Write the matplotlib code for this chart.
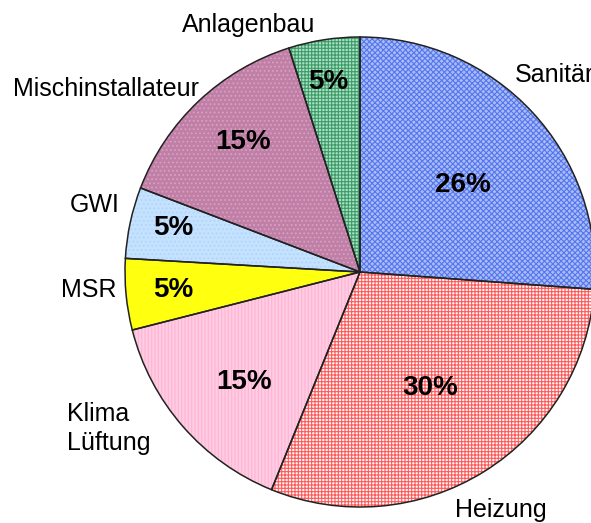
import matplotlib
matplotlib.use("Agg")
import matplotlib.pyplot as plt

plt.rcParams['font.family'] = ['Liberation Sans', 'DejaVu Sans']
plt.rcParams['hatch.linewidth'] = 0.8

categories = ["Sanitär", "Heizung", "Klima\nLüftung", "MSR", "GWI", "Mischinstallateur", "Anlagenbau"]
values = [26.2, 30.0, 14.9, 4.9, 4.9, 14.3, 4.9]
pct_labels = ["26%", "30%", "15%", "5%", "5%", "15%", "5%"]

face_colors = ["#aabcf6", "#fff6f6", "#ffcce3", "#ffff10", "#c4e2ff", "#c07fa6", "#a8e2c4"]
hatch_colors = ["#5476ee", "#ff5a5a", "#ffb4d4", "#f0f000", "#b0d4f8", "#d8a0c0", "#3f9a68"]
hatches = ["xxxxxx", "+++++", "|||||", "", "....", "....", "+++++"]

# label layout (data units, radius = 1)
label_pos = [(0.66, 0.838, 'left'), (0.60, -1.013, 'center'), (-1.247, -0.665, 'left'),
             (-1.035, -0.077, 'right'), (-1.025, 0.285, 'right'), (-0.686, 0.780, 'right'),
             (-0.472, 1.051, 'center')]
pct_pos = [(0.438, 0.370), (0.298, -0.494), (-0.494, -0.468), (-0.796, -0.077),
           (-0.796, 0.187), (-0.498, 0.553), (-0.136, 0.809)]

W, H = 591, 523
fig = plt.figure(figsize=(W / 100, H / 100), dpi=100)
cx, cy, r = 360, 272, 235
ax = fig.add_axes([(cx - r) / W, (H - cy - r) / H, 2 * r / W, 2 * r / H])
ax.set_aspect('equal')
ax.axis('off')

w1, _ = ax.pie(values, colors=face_colors, startangle=90, counterclock=False,
               wedgeprops=dict(linewidth=0), radius=1)
w2, _ = ax.pie(values, colors=['none'] * len(values), startangle=90, counterclock=False,
               hatch=hatches, wedgeprops=dict(linewidth=0), radius=1)
for w, hc in zip(w2, hatch_colors):
    w.set_edgecolor(hc)
    w.set_linewidth(0)
w3, _ = ax.pie(values, colors=['none'] * len(values), startangle=90, counterclock=False,
               wedgeprops=dict(linewidth=1.1, edgecolor='#222222'), radius=1)
ax.set_xlim(-1, 1)
ax.set_ylim(-1, 1)

for lab, (x, y, ha) in zip(categories, label_pos):
    ax.text(x, y, lab, ha=ha, va='center', fontsize=18, color='black',
            linespacing=1.25, clip_on=False)
for p, (x, y) in zip(pct_labels, pct_pos):
    ax.text(x, y, p, ha='center', va='center', fontsize=20, fontweight='bold', color='black')

fig.savefig("out.png", dpi=100)
